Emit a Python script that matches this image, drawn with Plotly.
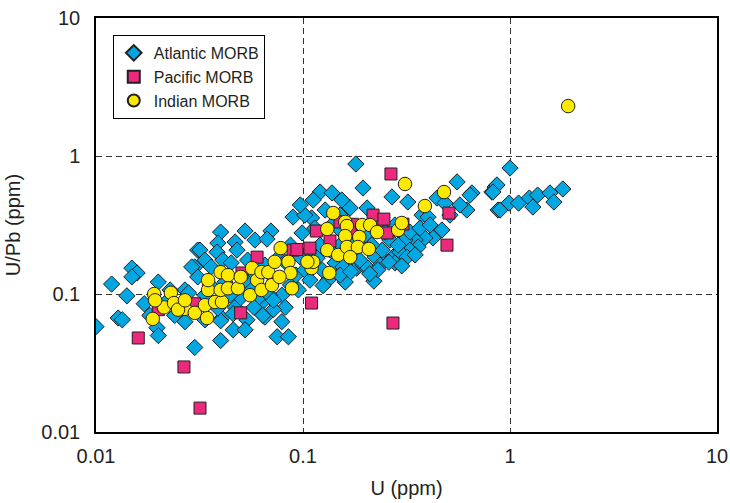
import plotly.graph_objects as go

# Atlantic MORB (U ppm, U/Pb)
atl_u = [0.0100, 0.0119, 0.0128, 0.0134, 0.0141, 0.0149, 0.0158, 0.0149, 0.0171, 0.0200,
         0.0197, 0.0200, 0.0269, 0.0300, 0.0310, 0.0300, 0.0310, 0.0895, 0.0400, 0.0525,
         0.0700, 0.0586, 0.0670, 0.0388, 0.0470, 0.0318, 0.0384, 0.0480, 0.0336, 0.0410,
         0.0290, 0.0360, 0.0450, 0.0540, 0.0280, 0.0470, 0.0630, 0.0790, 0.0820, 0.0406,
         0.0536, 0.0655, 0.0790, 0.0460, 0.0525, 0.0750, 0.0850, 0.0400, 0.0400, 0.0640,
         0.0720, 0.180, 0.195, 0.269, 0.121, 0.112, 0.138, 0.154, 0.110, 0.169,
         0.204, 0.241, 0.099, 0.114, 0.138, 0.097, 0.117, 0.143, 0.156, 0.182,
         0.195, 0.223, 0.249, 0.272, 0.300, 0.160, 0.220, 0.095, 0.206, 0.241,
         0.555, 0.321, 0.444, 0.485, 0.655, 0.619, 0.376, 0.402, 0.469, 0.425,
         0.388, 0.348, 0.311, 0.360, 0.329, 0.294, 0.318, 0.348, 0.847, 0.875,
         0.818, 0.641, 1.00, 0.865, 0.827, 0.895, 0.99, 1.10, 1.24, 1.29,
         1.36, 1.56, 1.63, 1.80,
         0.0555, 0.061, 0.069, 0.087, 0.0925, 0.102, 0.108, 0.124, 0.132, 0.151,
         0.173, 0.188, 0.215, 0.236, 0.263, 0.278, 0.288, 0.151, 0.135, 0.169,
         0.128, 0.151, 0.102, 0.097, 0.087, 0.0757, 0.0655, 0.0586, 0.0525, 0.042,
         0.0356, 0.0336, 0.050, 0.0444, 0.0388, 0.0336, 0.0269, 0.024, 0.0223, 0.0228,
         0.0182, 0.188, 0.200, 0.250, 0.278, 0.178, 0.151, 0.121, 0.108, 0.082,
         0.073, 0.329, 0.367, 0.411, 0.513, 0.573,
         0.260, 0.230, 0.300, 0.210, 0.170, 0.125, 0.058, 0.072, 0.046]
atl_upb = [0.058, 0.118, 0.067, 0.065, 0.097, 0.154, 0.142, 0.133, 0.085, 0.122,
           0.057, 0.050, 0.107, 0.041, 0.208, 0.157, 0.133, 0.361, 0.281, 0.286,
           0.286, 0.246, 0.250, 0.234, 0.238, 0.208, 0.201, 0.208, 0.176, 0.176,
           0.157, 0.157, 0.168, 0.176, 0.102, 0.080, 0.086, 0.098, 0.080, 0.067,
           0.065, 0.068, 0.063, 0.055, 0.055, 0.049, 0.049, 0.046, 0.064, 0.070,
           0.077, 0.875, 0.586, 0.505, 0.548, 0.480, 0.540, 0.480, 0.356, 0.420,
           0.420, 0.333, 0.277, 0.300, 0.316, 0.185, 0.182, 0.168, 0.157, 0.154,
           0.162, 0.185, 0.176, 0.185, 0.208, 0.122, 0.124, 0.107, 0.154, 0.208,
           0.649, 0.464, 0.496, 0.456, 0.540, 0.406, 0.373, 0.361, 0.291, 0.255,
           0.255, 0.246, 0.246, 0.219, 0.208, 0.201, 0.185, 0.192, 0.596, 0.406,
           0.548, 0.521, 0.818, 0.617, 0.548, 0.406, 0.456, 0.456, 0.496, 0.427,
           0.521, 0.540, 0.464, 0.577,
           0.110, 0.094, 0.098, 0.116, 0.137, 0.149, 0.126, 0.149, 0.126, 0.137,
           0.192, 0.176, 0.226, 0.162, 0.246, 0.168, 0.226, 0.226, 0.208, 0.246,
           0.406, 0.373, 0.373, 0.442, 0.226, 0.182, 0.162, 0.137, 0.126, 0.122,
           0.116, 0.098, 0.094, 0.098, 0.079, 0.065, 0.063, 0.070, 0.090, 0.107,
           0.070, 0.226, 0.268, 0.281, 0.316, 0.291, 0.291, 0.226, 0.176, 0.171,
           0.126, 0.281, 0.300, 0.316, 0.373, 0.442,
           0.170, 0.150, 0.160, 0.140, 0.145, 0.115, 0.080, 0.090, 0.072]

# Pacific MORB
pac_u = [0.016, 0.020, 0.030, 0.0266, 0.0318, 0.050, 0.060, 0.0507, 0.0895, 0.0935,
         0.108, 0.116, 0.135, 0.151, 0.218, 0.246, 0.304, 0.255, 0.266, 0.507,
         0.496, 0.110, 0.272, 0.173, 0.169]
pac_upb = [0.048, 0.077, 0.085, 0.0296, 0.0149, 0.073, 0.185, 0.142, 0.208, 0.210,
           0.215, 0.286, 0.242, 0.333, 0.373, 0.349, 0.321, 0.277, 0.741, 0.386,
           0.226, 0.086, 0.0616, 0.320, 0.277]

# Indian MORB
ind_u = [0.0191, 0.023, 0.0213, 0.0238, 0.0188, 0.0193, 0.0269, 0.030, 0.0249, 0.0344,
         0.0269, 0.0336, 0.0376, 0.0406, 0.0348, 0.0348, 0.040, 0.040, 0.0434, 0.0434,
         0.0485, 0.050, 0.0555, 0.0567, 0.060, 0.063, 0.063, 0.068, 0.0708, 0.073,
         0.078, 0.085, 0.087, 0.077, 0.0885,
         0.140, 0.160, 0.193, 0.211, 0.131, 0.163, 0.228, 0.288, 0.300, 0.160,
         0.187, 0.131, 0.148, 0.163, 0.184, 0.208, 0.110, 0.112, 0.134, 0.169,
         0.105, 0.311, 0.480, 0.388, 1.91]
ind_upb = [0.100, 0.102, 0.080, 0.086, 0.066, 0.090, 0.078, 0.073, 0.077, 0.067,
           0.090, 0.083, 0.0875, 0.0875, 0.107, 0.126, 0.107, 0.144, 0.137, 0.110,
           0.110, 0.133, 0.098, 0.154, 0.126, 0.144, 0.107, 0.144, 0.116, 0.171,
           0.215, 0.171, 0.142, 0.133, 0.110,
           0.386, 0.333, 0.316, 0.316, 0.296, 0.311, 0.281, 0.291, 0.327, 0.263,
           0.259, 0.208, 0.192, 0.219, 0.219, 0.212, 0.154, 0.171, 0.142, 0.185,
           0.171, 0.627, 0.548, 0.434, 2.30]

tick_vals = [0.01, 0.1, 1, 10]
tick_text = ["0.01", "0.1", "1", "10"]

edge = dict(color="#231f20", width=1)
fig = go.Figure()
fig.add_trace(go.Scatter(x=atl_u, y=atl_upb, mode="markers", name="Atlantic MORB",
                         marker=dict(symbol="diamond", size=12.5, color="#00a7e1", line=edge)))
fig.add_trace(go.Scatter(x=pac_u, y=pac_upb, mode="markers", name="Pacific MORB",
                         marker=dict(symbol="square", size=12, color="#ec2a7d", line=edge)))
fig.add_trace(go.Scatter(x=ind_u, y=ind_upb, mode="markers", name="Indian MORB",
                         marker=dict(symbol="circle", size=13.5, color="#fbe900", line=edge)))

axis_common = dict(type="log", range=[-2, 1], tickmode="array", tickvals=tick_vals,
                   ticktext=tick_text, showline=True, mirror=True, linecolor="black",
                   linewidth=1.5, showgrid=True, gridcolor="#333333", gridwidth=1,
                   griddash="6px,4px", zeroline=False, ticks="", automargin=False,
                   tickfont=dict(size=20, color="#231f20"))

fig.update_layout(
    width=730, height=503,
    margin=dict(l=96, r=13, t=18, b=71),
    paper_bgcolor="white", plot_bgcolor="white",
    font=dict(family="Liberation Sans, Arial, sans-serif", color="#231f20"),
    xaxis=dict(**axis_common, ticklabelstandoff=5,
               title=dict(text="U (ppm)", font=dict(size=20))),
    yaxis=dict(**axis_common, ticklabelstandoff=10,
               title=dict(text="U/Pb (ppm)", font=dict(size=20))),
    legend=dict(x=0.027, y=0.959, xanchor="left", yanchor="top",
                bordercolor="black", borderwidth=1, bgcolor="white",
                font=dict(size=16), tracegroupgap=0, itemsizing="constant"),
    showlegend=True,
)

fig.write_html("out.html")
